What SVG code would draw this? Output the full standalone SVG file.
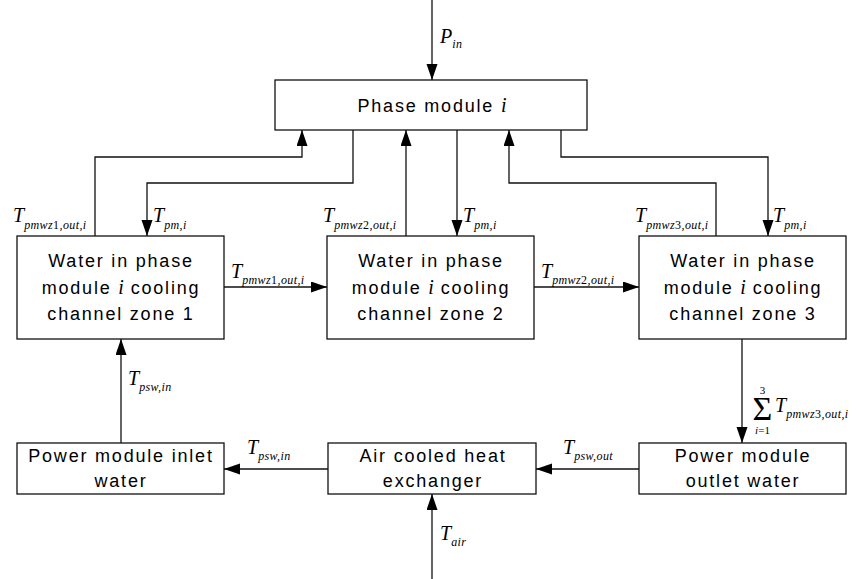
<svg xmlns="http://www.w3.org/2000/svg" width="857" height="579" viewBox="0 0 857 579">
<style>
.box{fill:#fff;stroke:#111;stroke-width:1.3}
.lbl{font-family:"Liberation Sans",Arial,sans-serif;font-size:18px;letter-spacing:1.8px;fill:#000;text-anchor:middle}
.m{font-family:"Liberation Serif","Times New Roman",serif;font-style:italic;fill:#000;letter-spacing:0}
.T{font-size:20px}
.s{font-size:12px;letter-spacing:0.4px}
.r{font-style:normal}
.c{fill:none;stroke:#111;stroke-width:1.3}
.sum{font-family:"Liberation Serif","Times New Roman",serif;fill:#000;text-anchor:middle}
</style>
<defs>
<marker id="ah" markerUnits="userSpaceOnUse" markerWidth="17" markerHeight="13" refX="16" refY="5.5" orient="auto">
<path d="M0,0 L16,5.5 L0,11 z" fill="#000"/>
</marker>
</defs>
<g id="connectors">
<path class="c" d="M432,0 V80" marker-end="url(#ah)"/>
<path class="c" d="M95,236 V157 H302 V130" marker-end="url(#ah)"/>
<path class="c" d="M353,130 V183 H147 V236" marker-end="url(#ah)"/>
<path class="c" d="M406,236 V130" marker-end="url(#ah)"/>
<path class="c" d="M457,130 V236" marker-end="url(#ah)"/>
<path class="c" d="M716,236 V183 H509 V130" marker-end="url(#ah)"/>
<path class="c" d="M561,130 V157 H768 V236" marker-end="url(#ah)"/>
<path class="c" d="M224,287 H327" marker-end="url(#ah)"/>
<path class="c" d="M534,287 H639" marker-end="url(#ah)"/>
<path class="c" d="M742,339 V443" marker-end="url(#ah)"/>
<path class="c" d="M639,469 H536" marker-end="url(#ah)"/>
<path class="c" d="M328,469 H224" marker-end="url(#ah)"/>
<path class="c" d="M121,443 V339" marker-end="url(#ah)"/>
<path class="c" d="M432,579 V494" marker-end="url(#ah)"/>
</g>
<g id="phase-module">
<rect class="box" x="275" y="80" width="312" height="50"/>
<text class="lbl" x="432" y="112">Phase module <tspan class="m" font-size="20">i</tspan></text>
</g>
<g id="zone1">
<rect class="box" x="17" y="236" width="207" height="103"/>
<text class="lbl" x="121" y="267">Water in phase</text>
<text class="lbl" x="121" y="294">module <tspan class="m" font-size="20">i</tspan> cooling</text>
<text class="lbl" x="121" y="320">channel zone 1</text>
</g>
<g id="zone2">
<rect class="box" x="327" y="236" width="207" height="103"/>
<text class="lbl" x="431" y="267">Water in phase</text>
<text class="lbl" x="431" y="294">module <tspan class="m" font-size="20">i</tspan> cooling</text>
<text class="lbl" x="431" y="320">channel zone 2</text>
</g>
<g id="zone3">
<rect class="box" x="639" y="236" width="207" height="103"/>
<text class="lbl" x="743" y="267">Water in phase</text>
<text class="lbl" x="743" y="294">module <tspan class="m" font-size="20">i</tspan> cooling</text>
<text class="lbl" x="743" y="320">channel zone 3</text>
</g>
<g id="inlet">
<rect class="box" x="17" y="443" width="207" height="51"/>
<text class="lbl" x="121" y="462">Power module inlet</text>
<text class="lbl" x="121" y="487">water</text>
</g>
<g id="heat-exchanger">
<rect class="box" x="328" y="443" width="208" height="51"/>
<text class="lbl" x="433" y="462">Air cooled heat</text>
<text class="lbl" x="433" y="487">exchanger</text>
</g>
<g id="outlet">
<rect class="box" x="639" y="443" width="207" height="51"/>
<text class="lbl" x="743" y="462">Power module</text>
<text class="lbl" x="743" y="487">outlet water</text>
</g>
<g id="labels">
<text class="m T" x="440" y="43">P<tspan class="s" dy="5">in</tspan></text>
<text class="m T" x="13" y="222">T<tspan class="s" dy="7">pmwz<tspan class="r">1</tspan>,out,i</tspan></text>
<text class="m T" x="153" y="222">T<tspan class="s" dy="7">pm,i</tspan></text>
<text class="m T" x="323" y="222">T<tspan class="s" dy="7">pmwz<tspan class="r">2</tspan>,out,i</tspan></text>
<text class="m T" x="463" y="222">T<tspan class="s" dy="7">pm,i</tspan></text>
<text class="m T" x="635" y="222">T<tspan class="s" dy="7">pmwz<tspan class="r">3</tspan>,out,i</tspan></text>
<text class="m T" x="773" y="222">T<tspan class="s" dy="7">pm,i</tspan></text>
<text class="m T" x="231" y="278">T<tspan class="s" dy="6">pmwz<tspan class="r">1</tspan>,out,i</tspan></text>
<text class="m T" x="541" y="278">T<tspan class="s" dy="6">pmwz<tspan class="r">2</tspan>,out,i</tspan></text>
<text class="m T" x="128" y="385">T<tspan class="s" dy="6">psw,in</tspan></text>
<text class="m T" x="247" y="454">T<tspan class="s" dy="6">psw,in</tspan></text>
<text class="m T" x="563" y="454">T<tspan class="s" dy="6">psw,out</tspan></text>
<text class="m T" x="440" y="540">T<tspan class="s" dy="6">air</tspan></text>
<text class="sum" x="762.5" y="420" font-size="34">Σ</text>
<text class="sum" x="762.5" y="394" font-size="11">3</text>
<text class="sum" x="762.5" y="434" font-size="11"><tspan font-style="italic">i</tspan>=1</text>
<text class="m T" x="775" y="412">T<tspan class="s" dy="6">pmwz<tspan class="r">3</tspan>,out,i</tspan></text>
</g>
</svg>
